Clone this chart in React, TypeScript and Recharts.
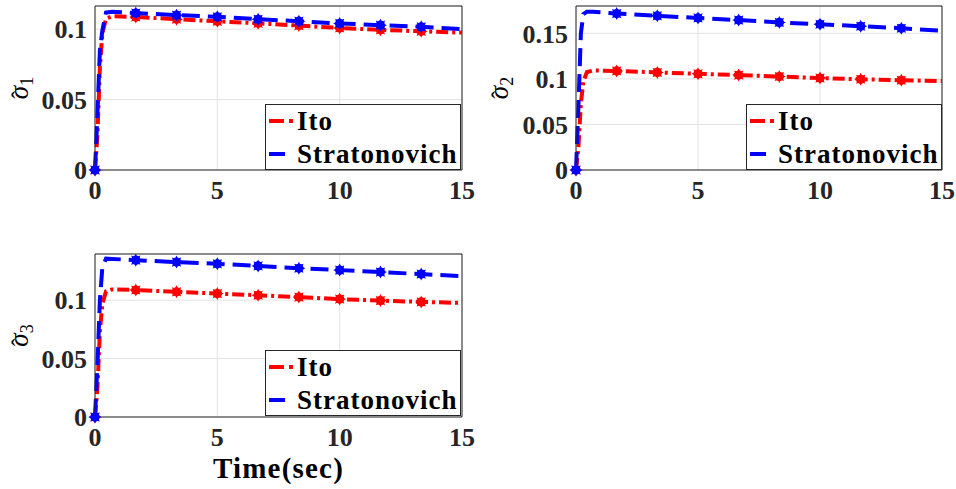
import React from "react";
import {
  CartesianGrid,
  Legend,
  Line,
  LineChart,
  ReferenceLine,
  XAxis,
  YAxis,
} from "recharts";

// time samples (sec)
const time = [0, 0.1, 0.2, 0.3, 0.45, 0.7, 1.667, 3.333, 5, 6.667, 8.333, 10, 11.667, 13.333, 15];
const markerTimes = [0, 1.667, 3.333, 5, 6.667, 8.333, 10, 11.667, 13.333];
const xTicks = [0, 5, 10, 15];

const ito = [0, 0.025, 0.073, 0.097, 0.1075, 0.1092, 0.1087, 0.1071, 0.1056, 0.1042, 0.1026, 0.1009, 0.0996, 0.0985, 0.0976];
const strat1 = [0, 0.04, 0.085, 0.099, 0.1118, 0.1124, 0.1115, 0.11, 0.1088, 0.1071, 0.1057, 0.1041, 0.1029, 0.1017, 0.1];
const strat2 = [0, 0.07, 0.15, 0.171, 0.1738, 0.1737, 0.1717, 0.1692, 0.1669, 0.1645, 0.162, 0.16, 0.1578, 0.1556, 0.1527];
const strat3 = [0, 0.045, 0.1, 0.128, 0.1355, 0.1353, 0.1342, 0.1326, 0.1311, 0.1293, 0.1273, 0.1257, 0.124, 0.1223, 0.1206];

const yTicks1 = [0, 0.05, 0.1];
const yTicks2 = [0, 0.05, 0.1, 0.15];
const yTicks3 = [0, 0.05, 0.1];

const FONT = "'Liberation Serif', 'DejaVu Serif', Times, serif";
const INK = "#262626";
const RED = "#ff0000";
const BLUE = "#0000ff";
const ITO_DASH = "12 4 3 4";
const STRAT_DASH = "18 8";

const markerSet = new Set(markerTimes);

function starPoints(cx: number, cy: number) {
  const pts: string[] = [];
  for (let k = 0; k < 16; k++) {
    const r = k % 2 === 0 ? 6.5 : 3.8;
    const a = (Math.PI * k) / 8 - Math.PI / 2;
    pts.push(`${cx + r * Math.cos(a)},${cy + r * Math.sin(a)}`);
  }
  return pts.join(" ");
}

function makeDot(color: string) {
  return (props: any) => {
    const { cx, cy, payload, index } = props;
    if (cx == null || cy == null || !markerSet.has(payload.t)) {
      return <g key={`d${index}`} />;
    }
    return (
      <g key={`d${index}`}>
        <circle cx={cx} cy={cy} r={4.6} fill={color} />
        <polygon points={starPoints(cx, cy)} fill={color} />
      </g>
    );
  };
}

function LegendBox({ payload }: any) {
  const rows = payload || [];
  return (
    <div
      style={{
        width: 196,
        height: 66,
        boxSizing: "border-box",
        border: `1px solid ${INK}`,
        background: "#fff",
        position: "relative",
      }}
    >
      {rows.map((p: any, i: number) => (
        <div
          key={p.value}
          style={{
            position: "absolute",
            left: 2,
            top: i === 0 ? 2 : 35,
            height: 28,
            display: "flex",
            alignItems: "center",
          }}
        >
          <svg width={28} height={28}>
            <line
              x1={1}
              x2={27}
              y1={14}
              y2={14}
              stroke={p.color}
              strokeWidth={4}
              strokeDasharray={p.dataKey === "ito" ? "15 5 4 100" : "16 100"}
            />
          </svg>
          <span
            style={{
              fontFamily: FONT,
              fontWeight: "bold",
              fontSize: 27,
              letterSpacing: 1,
              lineHeight: "28px",
              marginLeft: 1,
              color: "#000",
            }}
          >
            {p.value}
          </span>
        </div>
      ))}
    </div>
  );
}

function SigmaLabel({ viewBox, sub }: any) {
  const x = (viewBox?.x ?? 0) + 28;
  const y = (viewBox?.y ?? 0) + (viewBox?.height ?? 0) / 2;
  return (
    <text
      x={x}
      y={y}
      transform={`rotate(-90, ${x}, ${y})`}
      textAnchor="middle"
      fontFamily={FONT}
      fill="#000"
    >
      <tspan fontStyle="italic" fontSize={27}>σ</tspan>
      <tspan fontSize={24} dx={-13}>ˆ</tspan>
      <tspan fontSize={18} dx={5} dy={5}>{sub}</tspan>
    </text>
  );
}

function TimeLabel({ viewBox }: any) {
  const x = (viewBox?.x ?? 0) + (viewBox?.width ?? 0) / 2;
  const y = (viewBox?.y ?? 0) + 61;
  return (
    <text
      x={x}
      y={y}
      textAnchor="middle"
      fontFamily={FONT}
      fontWeight="bold"
      fontSize={29}
      letterSpacing={1.2}
      fill="#000"
    >
      Time(sec)
    </text>
  );
}

interface PanelProps {
  left: number;
  top: number;
  width: number;
  height: number;
  strat: number[];
  yMax: number;
  yTicks: number[];
  sub: string;
  yAxisWidth: number;
  marginTop: number;
  marginRight: number;
  xAxisHeight: number;
  legendLeft: number;
  legendTop: number;
  timeLabel?: boolean;
}

function Panel(p: PanelProps) {
  const data = time.map((t, i) => ({ t, ito: ito[i], strat: p.strat[i] }));
  const tickStyle = { fontFamily: FONT, fontWeight: "bold", fontSize: 26, fill: INK };
  return (
    <div style={{ position: "absolute", left: p.left, top: p.top }}>
      <LineChart
        width={p.width}
        height={p.height}
        data={data}
        margin={{ top: p.marginTop, right: p.marginRight, left: 0, bottom: 0 }}
      >
        <CartesianGrid stroke="#e2e2e2" />
        <XAxis
          dataKey="t"
          type="number"
          domain={[0, 15]}
          ticks={xTicks}
          height={p.xAxisHeight}
          tickSize={0}
          tickMargin={11}
          tick={tickStyle}
          axisLine={{ stroke: INK }}
          label={p.timeLabel ? <TimeLabel /> : undefined}
        />
        <YAxis
          type="number"
          domain={[0, p.yMax]}
          ticks={p.yTicks}
          width={p.yAxisWidth}
          tickSize={0}
          tickMargin={8}
          tick={tickStyle}
          axisLine={{ stroke: INK }}
          label={<SigmaLabel sub={p.sub} />}
        />
        <ReferenceLine y={p.yMax} stroke={INK} />
        <ReferenceLine x={15} stroke={INK} />
        <Line
          dataKey="ito"
          name="Ito"
          stroke={RED}
          strokeWidth={4}
          strokeDasharray={ITO_DASH}
          dot={makeDot(RED)}
          activeDot={false}
          isAnimationActive={false}
        />
        <Line
          dataKey="strat"
          name="Stratonovich"
          stroke={BLUE}
          strokeWidth={4}
          strokeDasharray={STRAT_DASH}
          dot={makeDot(BLUE)}
          activeDot={false}
          isAnimationActive={false}
        />
        <Legend
          verticalAlign="middle"
          layout="horizontal"
          content={<LegendBox />}
          wrapperStyle={{ left: p.legendLeft, top: p.legendTop, width: 196, height: 66 }}
        />
      </LineChart>
    </div>
  );
}

export default function App() {
  return (
    <div style={{ position: "absolute", left: 0, top: 0, width: 956, height: 489, background: "#fff" }}>
      <Panel
        left={0}
        top={0}
        width={480}
        height={205}
        strat={strat1}
        yMax={0.1165}
        yTicks={yTicks1}
        sub="1"
        yAxisWidth={95}
        marginTop={6}
        marginRight={18}
        xAxisHeight={35}
        legendLeft={265}
        legendTop={104}
      />
      <Panel
        left={480}
        top={0}
        width={476}
        height={205}
        strat={strat2}
        yMax={0.18}
        yTicks={yTicks2}
        sub="2"
        yAxisWidth={96}
        marginTop={6}
        marginRight={14}
        xAxisHeight={35}
        legendLeft={266}
        legendTop={104}
      />
      <Panel
        left={0}
        top={248}
        width={480}
        height={241}
        strat={strat3}
        yMax={0.1395}
        yTicks={yTicks3}
        sub="3"
        yAxisWidth={95}
        marginTop={6}
        marginRight={18}
        xAxisHeight={72}
        legendLeft={265}
        legendTop={102}
        timeLabel
      />
    </div>
  );
}
